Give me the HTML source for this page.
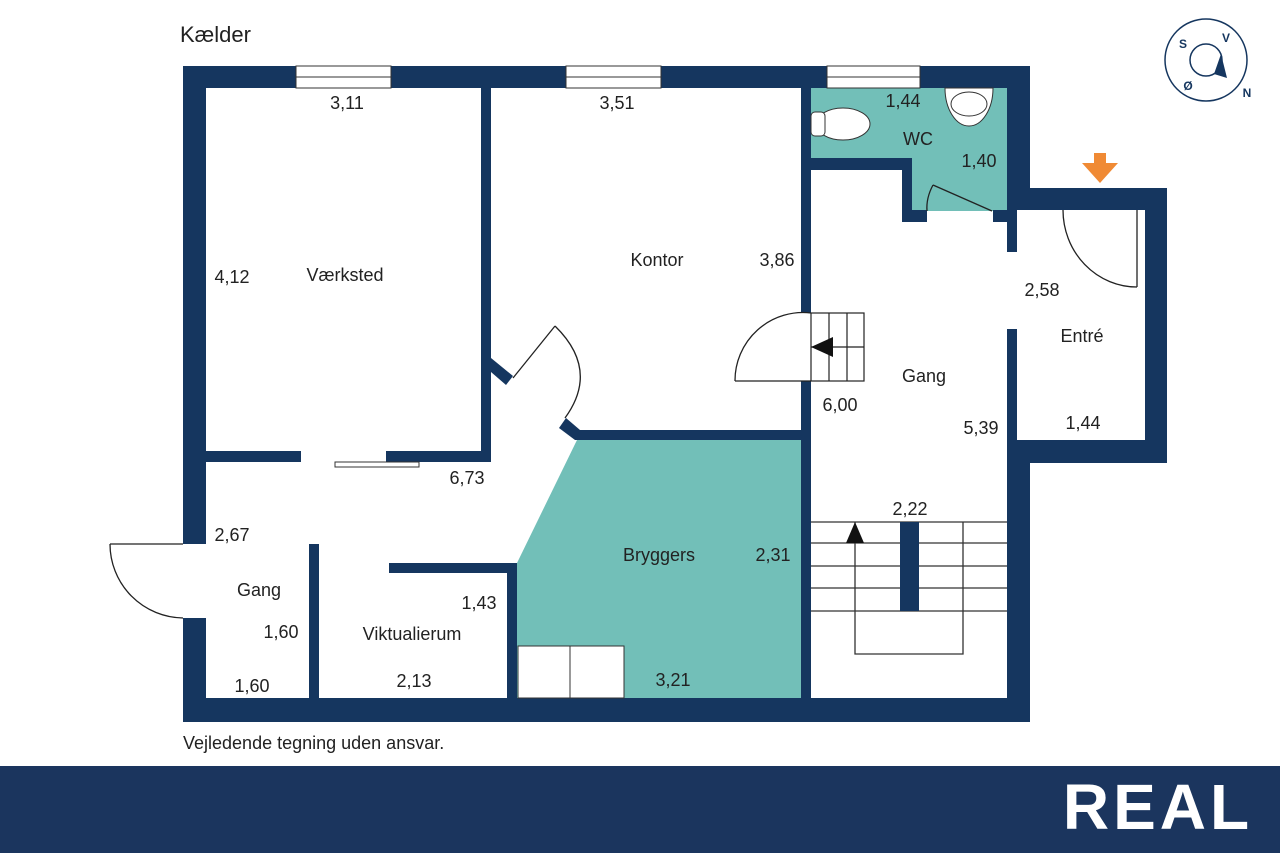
<!DOCTYPE html>
<html><head><meta charset="utf-8"><style>
html,body{margin:0;padding:0;background:#fff}
svg{display:block}
text{font-family:"Liberation Sans",sans-serif;fill:#222}
</style></head><body>
<svg width="1280" height="853" viewBox="0 0 1280 853" xmlns="http://www.w3.org/2000/svg">
<rect width="1280" height="853" fill="#fff"/>
<!-- footprint -->
<polygon points="183,66 1030,66 1030,188 1167,188 1167,463 1030,463 1030,722 183,722" fill="#15365f"/>
<!-- interior white -->
<rect x="206" y="88" width="801" height="610" fill="#fff"/>
<rect x="1017" y="210" width="128" height="230" fill="#fff"/>
<rect x="1007" y="252" width="10" height="77" fill="#fff"/>
<!-- teal WC -->
<rect x="811" y="88" width="196" height="70" fill="#72bfb8"/>
<rect x="912" y="158" width="95" height="53" fill="#72bfb8"/>
<!-- teal Bryggers -->
<polygon points="577,440 801,440 801,698 517,698 517,563" fill="#72bfb8"/>
<g fill="#15365f">
<!-- Værksted/Kontor wall -->
<rect x="481" y="88" width="10" height="374"/>
<rect x="206" y="451" width="95" height="11"/>
<rect x="386" y="451" width="105" height="11"/>
<!-- Kontor bottom -->
<rect x="575" y="430" width="236" height="10"/>
<polygon points="566,418 580,430 575,440 559,428"/>
<polygon points="491,358 513,376 506,385 491,372"/>
<!-- Kontor/Gang wall -->
<rect x="801" y="88" width="10" height="225"/>
<rect x="801" y="381" width="10" height="317"/>
<!-- Bryggers left & Viktualierum top -->
<rect x="507" y="563" width="10" height="135"/>
<rect x="389" y="563" width="128" height="10"/>
<!-- Gang/Viktualierum -->
<rect x="309" y="544" width="10" height="154"/>
<!-- WC walls -->
<rect x="811" y="158" width="101" height="12"/>
<rect x="902" y="158" width="10" height="64"/>
<rect x="902" y="210" width="25" height="12"/>
<rect x="993" y="210" width="24" height="12"/>
<rect x="1007" y="210" width="10" height="42"/>
<rect x="1030" y="188" width="33" height="22"/>
<rect x="1137" y="188" width="8" height="22"/>
<!-- Gang/Entré -->
<rect x="1007" y="329" width="10" height="134"/>
<rect x="1007" y="440" width="160" height="23"/>
<!-- stair post -->
<rect x="900" y="522" width="19" height="89"/>
</g>
<!-- left door gap -->
<rect x="183" y="544" width="23" height="74" fill="#fff"/>
<g fill="none" stroke="#222" stroke-width="1.3">
<line x1="183" y1="544" x2="110" y2="544"/>
<path d="M110,544 A74,74 0 0 0 183,618"/>
<!-- Kontor door -->
<line x1="513" y1="378" x2="555" y2="326"/>
<path d="M555,326 Q600,370 565,418"/>
<!-- stair door -->
<path d="M811,313 A68,68 0 0 0 735,381"/>
<line x1="735" y1="381" x2="811" y2="381"/>
<!-- WC door -->
<line x1="933" y1="185" x2="992" y2="211"/>
<path d="M933,185 Q926,198 927,211"/>
<!-- Entré door -->
<line x1="1137" y1="210" x2="1137" y2="287"/>
<path d="M1063,210 A74,77 0 0 0 1137,287"/>
</g>
<!-- windows -->
<g fill="#fff" stroke="#333" stroke-width="1">
<rect x="296" y="66" width="95" height="22"/><line x1="296" y1="77" x2="391" y2="77"/>
<rect x="566" y="66" width="95" height="22"/><line x1="566" y1="77" x2="661" y2="77"/>
<rect x="827" y="66" width="93" height="22"/><line x1="827" y1="77" x2="920" y2="77"/>
<rect x="335" y="462" width="84" height="5"/>
<!-- cabinets -->
<rect x="518" y="646" width="52" height="52"/>
<rect x="570" y="646" width="54" height="52"/>
<!-- toilet/sink -->
<ellipse cx="843" cy="124" rx="27" ry="16"/>
<rect x="811" y="112" width="14" height="24" rx="4"/>
<path d="M945,88 A24,38 0 0 0 993,88 Z"/>
<ellipse cx="969" cy="104" rx="18" ry="12"/>
</g>
<!-- upper small stairs -->
<g fill="#fff" stroke="#222" stroke-width="1.2">
<rect x="811" y="313" width="53" height="68"/>
<line x1="829" y1="313" x2="829" y2="381"/><line x1="847" y1="313" x2="847" y2="381"/>
<line x1="811" y1="347" x2="864" y2="347"/>
</g>
<polygon points="811,347 833,337 833,357" fill="#111"/>
<!-- lower stairs -->
<g fill="none" stroke="#333" stroke-width="1.3">
<line x1="811" y1="522" x2="1007" y2="522"/>
<line x1="811" y1="543" x2="1007" y2="543"/>
<line x1="811" y1="566" x2="1007" y2="566"/>
<line x1="811" y1="588" x2="1007" y2="588"/>
<line x1="811" y1="611" x2="1007" y2="611"/>
<polyline points="855,522 855,654 963,654 963,522"/>
</g>
<rect x="900" y="522" width="19" height="89" fill="#15365f"/>
<polygon points="855,522 846,543 864,543" fill="#111"/>
<!-- orange arrow -->
<rect x="1094" y="153" width="12" height="11" fill="#f08a34"/>
<polygon points="1082,163 1118,163 1100,183" fill="#f08a34"/>
<!-- compass -->
<g stroke="#15365f" stroke-width="1.5" fill="none">
<circle cx="1206" cy="60" r="41"/>
<circle cx="1206" cy="60" r="16"/>
</g>
<polygon points="1214,74 1221,54 1227,78" fill="#15365f"/>
<g font-weight="bold" font-size="12" text-anchor="middle" style="fill:#15365f">
<text x="1183" y="48" style="fill:#15365f">S</text>
<text x="1226" y="42" style="fill:#15365f">V</text>
<text x="1188" y="90" style="fill:#15365f">Ø</text>
<text x="1247" y="97" style="fill:#15365f">N</text>
</g>
<!-- labels -->
<text x="180" y="42" font-size="22">Kælder</text>
<text x="183" y="749" font-size="18">Vejledende tegning uden ansvar.</text>
<g font-size="18" text-anchor="middle" dominant-baseline="central">
<text x="347" y="103">3,11</text>
<text x="617" y="103">3,51</text>
<text x="903" y="101">1,44</text>
<text x="918" y="139">WC</text>
<text x="979" y="161">1,40</text>
<text x="345" y="275">Værksted</text>
<text x="232" y="277">4,12</text>
<text x="657" y="260">Kontor</text>
<text x="777" y="260">3,86</text>
<text x="1042" y="290">2,58</text>
<text x="1082" y="336">Entré</text>
<text x="924" y="376">Gang</text>
<text x="840" y="405">6,00</text>
<text x="981" y="428">5,39</text>
<text x="1083" y="423">1,44</text>
<text x="467" y="478">6,73</text>
<text x="910" y="509">2,22</text>
<text x="232" y="535">2,67</text>
<text x="659" y="555">Bryggers</text>
<text x="773" y="555">2,31</text>
<text x="259" y="590">Gang</text>
<text x="479" y="603">1,43</text>
<text x="281" y="632">1,60</text>
<text x="412" y="634">Viktualierum</text>
<text x="252" y="686">1,60</text>
<text x="414" y="681">2,13</text>
<text x="673" y="680">3,21</text>
</g>
<!-- footer -->
<rect x="0" y="766" width="1280" height="87" fill="#1b355e"/>
<text x="1158" y="829" font-size="64" font-weight="bold" text-anchor="middle" letter-spacing="4" style="fill:#fff">REAL</text>
</svg>
</body></html>
